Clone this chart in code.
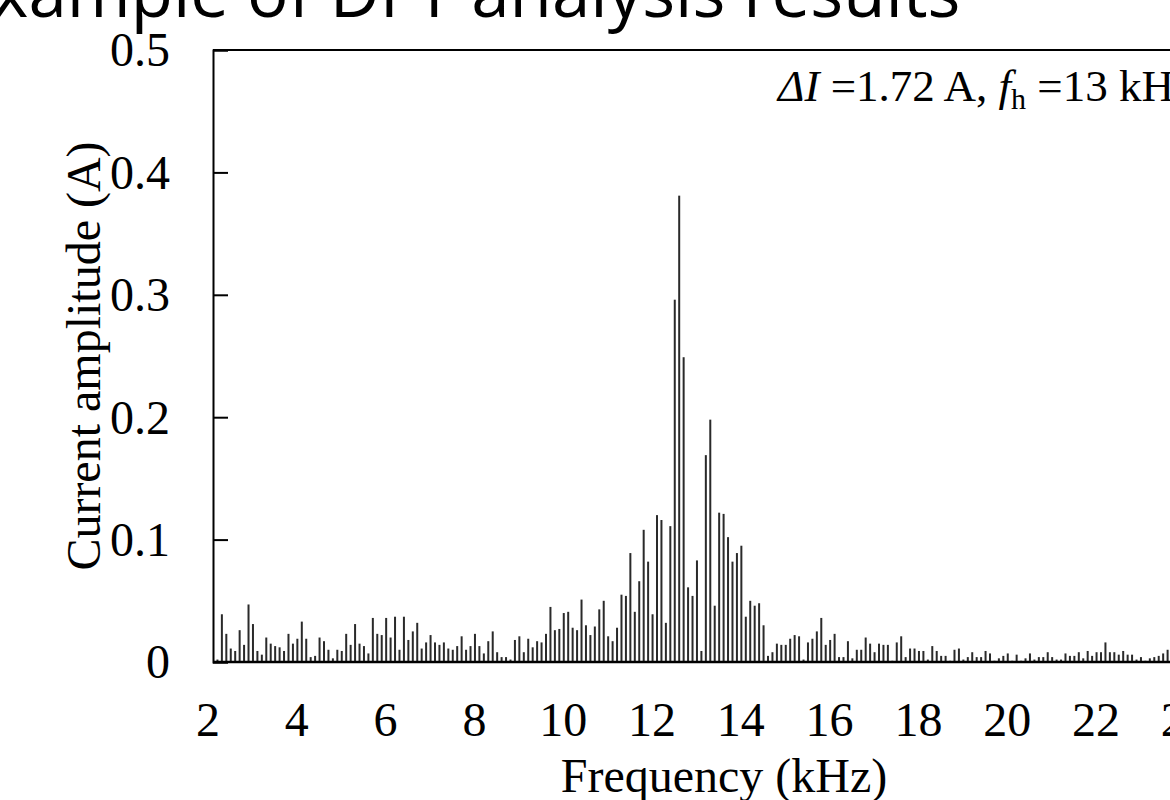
<!DOCTYPE html>
<html>
<head>
<meta charset="utf-8">
<script src="https://cdn.jsdelivr.net/npm/d3@7"></script>
<style>
  html, body { margin: 0; padding: 0; background: #fff; overflow: hidden; }
  svg { display: block; }
  .tick-label, .axis-label, .note { font-family: "Liberation Serif", "Times New Roman", serif; fill: #000; }
  .title { font-family: "Open Sans", "Noto Sans", sans-serif; fill: #000; }
</style>
</head>
<body>
<div id="d3-container"></div>
<script>
/**
 * CONSTANTS AND GLOBALS
 * */
const width = 1170,
  height = 800,
  margin = { top: 50, bottom: 138, left: 213, right: -20 };

// DFT bins: 0.1 kHz apart, first bin shown is 2.1 kHz
const freqStart = 2.1;
const freqStep = 0.1;

// amplitude of each bin (A), one row per kHz
const amplitudes = [
  0.002, 0.039, 0.023, 0.011, 0.009, 0.026, 0.014, 0.047, 0.031,        // 2.1 - 2.9
  0.009, 0.006, 0.020, 0.015, 0.013, 0.012, 0.009, 0.023, 0.015, 0.019, // 3.0 - 3.9
  0.033, 0.019, 0.004, 0.005, 0.020, 0.017, 0.010, 0.003, 0.010, 0.009, // 4.0 - 4.9
  0.023, 0.014, 0.031, 0.015, 0.013, 0.007, 0.036, 0.023, 0.022, 0.036, // 5.0 - 5.9
  0.020, 0.037, 0.010, 0.037, 0.018, 0.025, 0.032, 0.011, 0.016, 0.022, // 6.0 - 6.9
  0.016, 0.014, 0.016, 0.011, 0.010, 0.013, 0.021, 0.010, 0.013, 0.023, // 7.0 - 7.9
  0.013, 0.007, 0.017, 0.025, 0.008, 0.004, 0.004, 0.002, 0.018, 0.021, // 8.0 - 8.9
  0.008, 0.019, 0.012, 0.017, 0.016, 0.023, 0.045, 0.026, 0.027, 0.040, // 9.0 - 9.9
  0.041, 0.028, 0.026, 0.051, 0.030, 0.022, 0.029, 0.043, 0.050, 0.021, // 10.0 - 10.9
  0.017, 0.028, 0.055, 0.054, 0.089, 0.041, 0.066, 0.108, 0.082, 0.039, // 11.0 - 11.9
  0.120, 0.116, 0.032, 0.111, 0.296, 0.381, 0.249, 0.061, 0.054, 0.083, // 12.0 - 12.9
  0.009, 0.169, 0.198, 0.046, 0.122, 0.121, 0.102, 0.082, 0.089, 0.095, // 13.0 - 13.9
  0.037, 0.050, 0.046, 0.048, 0.030, 0.005, 0.008, 0.015, 0.014, 0.014, // 14.0 - 14.9
  0.019, 0.022, 0.021, 0.002, 0.016, 0.019, 0.025, 0.036, 0.014, 0.018, // 15.0 - 15.9
  0.023, 0.004, 0.004, 0.017, 0.003, 0.010, 0.010, 0.020, 0.015, 0.008, // 16.0 - 16.9
  0.015, 0.014, 0.014, 0.001, 0.016, 0.021, 0.004, 0.011, 0.011, 0.009, // 17.0 - 17.9
  0.009, 0.002, 0.013, 0.009, 0.005, 0.005, 0.001, 0.010, 0.011, 0.002, // 18.0 - 18.9
  0.004, 0.008, 0.004, 0.004, 0.009, 0.007, 0.001, 0.003, 0.005, 0.007, // 19.0 - 19.9
  0.001, 0.006, 0.001, 0.003, 0.007, 0.002, 0.004, 0.004, 0.008, 0.004, // 20.0 - 20.9
  0.002, 0.002, 0.007, 0.005, 0.005, 0.008, 0.003, 0.009, 0.005, 0.008, // 21.0 - 21.9
  0.008, 0.016, 0.008, 0.008, 0.006, 0.009, 0.006, 0.006, 0.002, 0.004, // 22.0 - 22.9
  0.001, 0.003, 0.004, 0.005, 0.007, 0.010                              // 23.0 - 23.5
];

const xTicks = [2, 4, 6, 8, 10, 12, 14, 16, 18, 20, 22, 24];
const yTicks = [0, 0.1, 0.2, 0.3, 0.4, 0.5];

const titleText = "Example of DFT analysis results";
const xLabel = "Frequency (kHz)";
const yLabel = "Current amplitude (A)";

let svg;
let xScale;
let yScale;

let state = {
  data: amplitudes.map((a, i) => ({
    freq: +(freqStart + i * freqStep).toFixed(1),
    amp: a
  }))
};

init();

/**
 * INITIALIZING FUNCTION
 * */
function init() {
  // SCALES
  xScale = d3
    .scaleLinear()
    .domain([2, 24])
    .range([margin.left, margin.left + 22 * 44.4]);

  yScale = d3
    .scaleLinear()
    .domain([0, 0.5])
    .range([height - margin.bottom, margin.top]);

  svg = d3
    .select("#d3-container")
    .append("svg")
    .attr("width", width)
    .attr("height", height);

  // title (cut off by the top edge, as in the slide)
  svg
    .append("text")
    .attr("class", "title")
    .attr("x", -46)
    .attr("y", 17)
    .attr("font-size", 69)
    .text(titleText);

  // frame: top line
  svg
    .append("line")
    .attr("x1", margin.left)
    .attr("x2", width + 10)
    .attr("y1", yScale(0.5))
    .attr("y2", yScale(0.5))
    .attr("stroke", "#000")
    .attr("stroke-width", 2);

  // y axis, ticks pointing inside
  const yAxis = d3
    .axisRight(yScale)
    .tickValues(yTicks)
    .tickSize(15)
    .tickFormat("");

  svg
    .append("g")
    .attr("class", "axis y-axis")
    .attr("transform", `translate(${margin.left},0)`)
    .call(yAxis)
    .call(g => g.select(".domain").attr("stroke-width", 2))
    .call(g => g.selectAll(".tick line").attr("stroke-width", 2));

  svg
    .append("g")
    .selectAll("text")
    .data(yTicks)
    .join("text")
    .attr("class", "tick-label")
    .attr("x", margin.left - 43)
    .attr("y", d => yScale(d))
    .attr("dy", "0.34em")
    .attr("text-anchor", "end")
    .attr("font-size", 48)
    .text(d => (d === 0 ? "0" : d3.format(".1f")(d)));

  svg
    .append("text")
    .attr("class", "axis-label")
    .attr("transform", `translate(100,${(yScale(0.5) + yScale(0)) / 2}) rotate(-90)`)
    .attr("text-anchor", "middle")
    .attr("font-size", 48)
    .text(yLabel);

  // x tick labels (no tick marks)
  svg
    .append("g")
    .selectAll("text")
    .data(xTicks)
    .join("text")
    .attr("class", "tick-label")
    .attr("x", d => xScale(d) - 5)
    .attr("y", yScale(0) + 74)
    .attr("text-anchor", "middle")
    .attr("font-size", 48)
    .text(d => d);

  svg
    .append("text")
    .attr("class", "axis-label")
    .attr("x", 724)
    .attr("y", yScale(0) + 130)
    .attr("text-anchor", "middle")
    .attr("font-size", 48)
    .text(xLabel);

  // annotation
  const note = svg
    .append("text")
    .attr("class", "note")
    .attr("x", 778)
    .attr("y", 101)
    .attr("font-size", 45);
  note.append("tspan").attr("font-style", "italic").text("ΔI");
  note.append("tspan").text(" =1.72 A,  ");
  note.append("tspan").attr("font-style", "italic").text("f");
  note.append("tspan").attr("font-size", 30).attr("dy", 8).text("h");
  note.append("tspan").attr("dy", -8).text(" =13 kHz");

  draw();
}

/**
 * DRAW FUNCTION
 * */
function draw() {
  svg
    .append("g")
    .attr("class", "bars")
    .selectAll("rect")
    .data(state.data)
    .join("rect")
    .attr("x", d => xScale(d.freq) - 1)
    .attr("width", 2)
    .attr("y", d => yScale(d.amp))
    .attr("height", d => yScale(0) - yScale(d.amp))
    .attr("fill", "#2a2a2a");

  // baseline
  svg
    .append("line")
    .attr("x1", margin.left)
    .attr("x2", width + 10)
    .attr("y1", yScale(0))
    .attr("y2", yScale(0))
    .attr("stroke", "#000")
    .attr("stroke-width", 2.5);
}
</script>
</body>
</html>
